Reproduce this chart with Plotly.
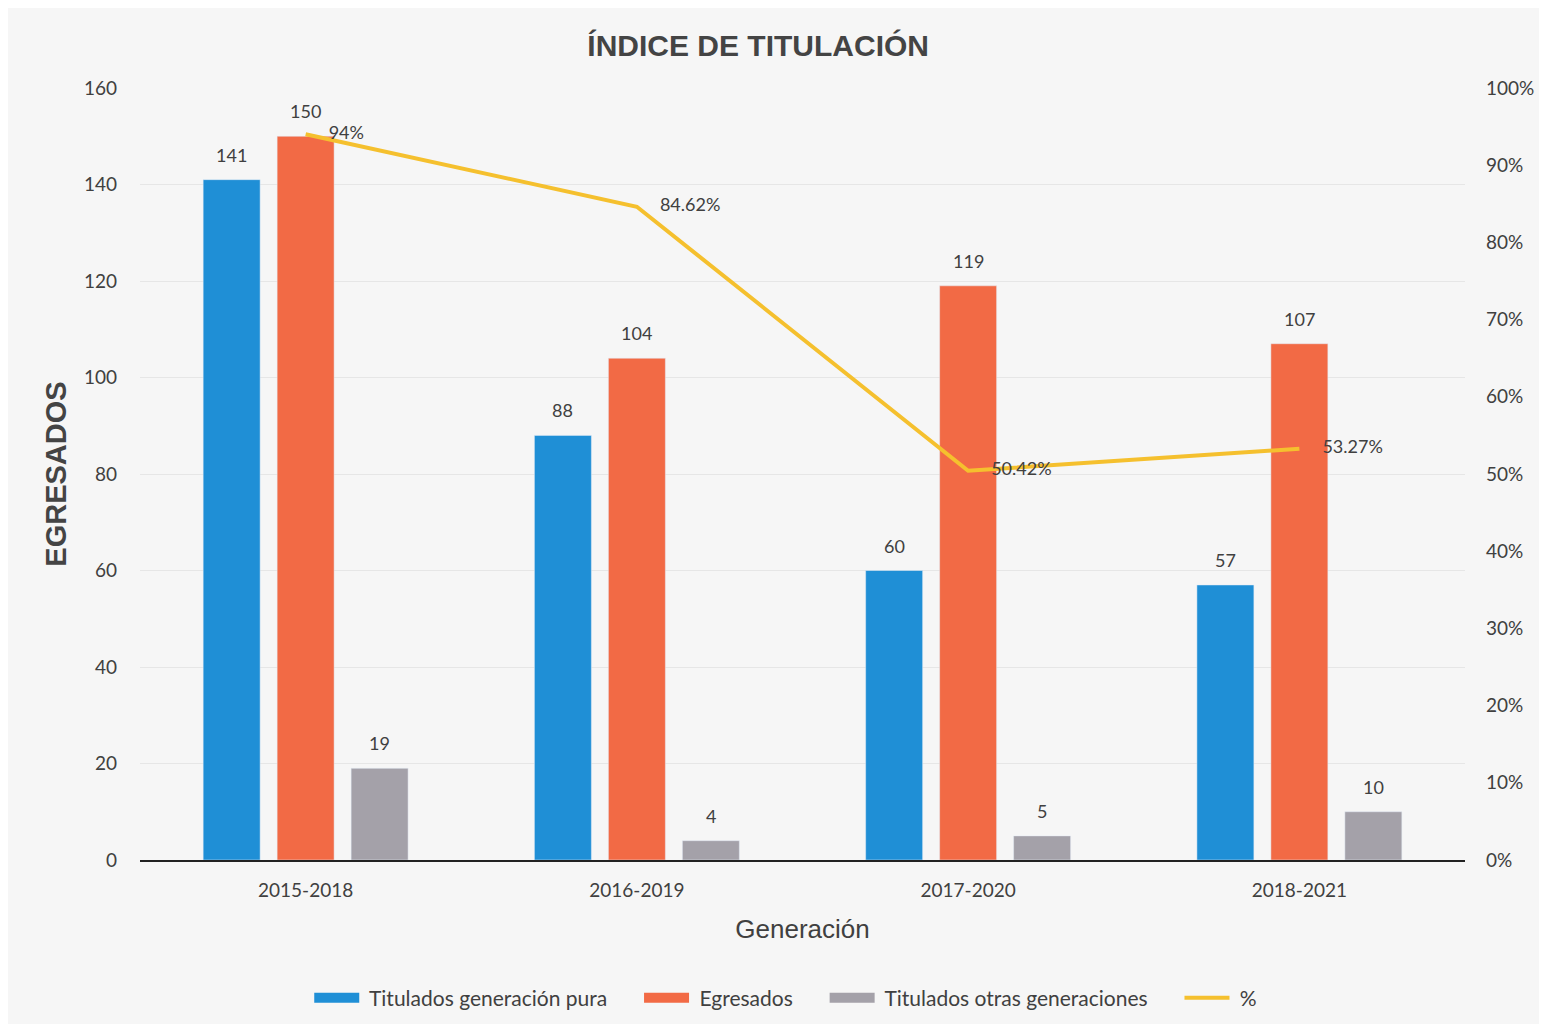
import plotly.graph_objects as go

# datos
generaciones = ['2015-2018', '2016-2019', '2017-2020', '2018-2021']
titulados_pura = [141, 88, 60, 57]
egresados = [150, 104, 119, 107]
titulados_otras = [19, 4, 5, 10]
porcentaje = [0.94, 0.8462, 0.5042, 0.5327]
porcentaje_txt = ['94%', '84.62%', '50.42%', '53.27%']

FONT = 'Lato, Carlito, Calibri, sans-serif'
TXT = '#404040'
AZUL, NARANJA, GRIS, AMARILLO = '#1f8fd6', '#f26a45', '#a4a1a9', '#f5c02e'

W, H = 1531, 1016
L, R, T, B = 132, 74, 80, 164
BARGAP, GROUPGAP = 0.33, 0.23
slot = (W - L - R) / len(generaciones) * (1 - BARGAP) / 3
NBSP = '\u00a0'

series = [
    ('Titulados generación pura', titulados_pura, AZUL),
    ('Egresados', egresados, NARANJA),
    ('Titulados otras generaciones', titulados_otras, GRIS),
]

fig = go.Figure()
anots = []
for i, (nombre, vals, color) in enumerate(series):
    fig.add_trace(go.Bar(name=nombre, x=generaciones, y=vals,
                         marker_color=color, showlegend=False))
    # etiqueta de valor encima de cada barra
    for g, v in zip(generaciones, vals):
        anots.append(dict(x=g, y=v, xref='x', yref='y', text=str(v),
                          showarrow=False, yanchor='bottom',
                          xshift=(i - 1) * slot, yshift=12,
                          font=dict(size=18, color=TXT)))

fig.add_trace(go.Scatter(
    name='%', x=generaciones, y=porcentaje, yaxis='y2',
    mode='lines+text', line=dict(color=AMARILLO, width=4),
    text=[NBSP * 5 + t for t in porcentaje_txt], textposition='middle right',
    textfont=dict(size=18, color=TXT), cliponaxis=False, showlegend=False
))

# entradas de leyenda (rectángulos anchos como en el original)
for nombre, color in [(s[0], s[2]) for s in series] + [('%', AMARILLO)]:
    relleno = '' if nombre == '%' else NBSP * 5
    fig.add_trace(go.Scatter(name=NBSP + nombre + relleno, x=[None], y=[None], mode='lines',
                             line=dict(color=color, width=4 if nombre == '%' else 13)))

fig.update_layout(
    width=W, height=H,
    paper_bgcolor='#f6f6f6', plot_bgcolor='#f6f6f6',
    font=dict(family=FONT, size=19, color=TXT),
    title=dict(
        text='<b>ÍNDICE DE TITULACIÓN</b>',
        x=0.49, xanchor='center', y=0.963, yanchor='middle',
        font=dict(family='Liberation Sans Narrow, Arial Narrow, sans-serif', size=30, color='#444444')
    ),
    margin=dict(l=L, r=R, t=T, b=B, autoexpand=False),
    barmode='group', bargap=BARGAP, bargroupgap=GROUPGAP,
    annotations=anots,
    showlegend=True,
    legend=dict(
        orientation='h', xref='container', yref='container',
        x=0.508, xanchor='center', y=0.0256, yanchor='middle',
        font=dict(size=21, color=TXT), traceorder='normal',
        itemwidth=45, bgcolor='rgba(0,0,0,0)'
    ),
    xaxis=dict(
        title=dict(text='Generación', font=dict(family='Liberation Sans, Arial, sans-serif', size=26, color=TXT), standoff=20),
        showline=True, linecolor='#222222', linewidth=2,
        ticks='', tickfont=dict(size=19, color=TXT), showgrid=False,
        ticklabelstandoff=12, automargin=False
    ),
    yaxis=dict(
        title=dict(text='<b>EGRESADOS</b>', font=dict(family='Liberation Sans, Arial, sans-serif', size=29, color='#444444'), standoff=8),
        range=[0, 160], dtick=20,
        showgrid=True, gridcolor='#e6e6e6', gridwidth=1,
        zeroline=False, showline=False,
        tickfont=dict(size=19, color=TXT), ticklabelstandoff=22, automargin=False
    ),
    yaxis2=dict(
        overlaying='y', side='right',
        range=[0, 1], dtick=0.1, tickformat='.0%',
        showgrid=False, zeroline=False, showline=False,
        tickfont=dict(size=19, color=TXT), ticklabelstandoff=20, automargin=False
    )
)

fig.write_html('out.html')
